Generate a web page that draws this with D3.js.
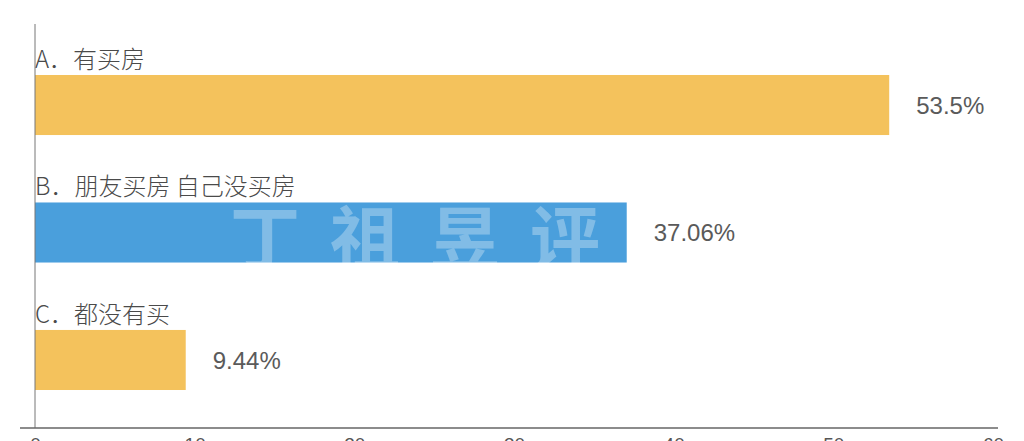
<!DOCTYPE html>
<html><head><meta charset="utf-8">
<script src="https://cdn.jsdelivr.net/npm/d3@7"></script>
<style>
html,body{margin:0;padding:0;background:#fff;}
svg{display:block;}
</style></head>
<body>
<svg id="chart" width="1024" height="441"></svg>
<script>
const categories = ["A．有买房", "B．朋友买房 自己没买房", "C．都没有买"];
const values = [53.5, 37.06, 9.44];
const valueLabels = ["53.5%", "37.06%", "9.44%"];
const barColors = ["#F4C25C", "#4A9FDC", "#F4C25C"];
const tickValues = [0, 10, 20, 30, 40, 50, 60];

const svg = d3.select("#chart");
const font = "'Noto Sans CJK SC', 'Liberation Sans', sans-serif";
const numFont = "'Liberation Sans', Arial, sans-serif";
const x = d3.scaleLinear().domain([0, 60]).range([35, 993]);
const y = d3.scaleBand().domain(categories).range([24, 441]).paddingInner(0.529).paddingOuter(0.4);
const axisY = 428;

// bars
svg.selectAll("rect.bar").data(values).enter().append("rect")
  .attr("class", "bar")
  .attr("x", x(0))
  .attr("y", (d, i) => y(categories[i]))
  .attr("width", d => x(d) - x(0))
  .attr("height", y.bandwidth())
  .attr("fill", (d, i) => barColors[i]);

// watermark (faint)
svg.append("text")
  .attr("x", (x(10) + x(52)) / 2)
  .attr("y", y(categories[1]) + y.bandwidth() / 2 + 32)
  .attr("text-anchor", "middle")
  .attr("font-family", font)
  .attr("font-weight", 700)
  .attr("font-size", 70)
  .attr("letter-spacing", 30)
  .attr("fill", "#ffffff")
  .attr("opacity", 0.3)
  .text("丁祖昱评楼市");

// category labels
svg.selectAll("text.cat").data(categories).enter().append("text")
  .attr("class", "cat")
  .attr("x", x(0))
  .attr("y", d => y(d) - 7)
  .attr("font-family", font)
  .attr("font-weight", 300)
  .attr("font-size", 24)
  .attr("fill", "#4a4a4a")
  .text(d => d);

// value labels
svg.selectAll("text.val").data(values).enter().append("text")
  .attr("class", "val")
  .attr("x", d => x(d) + 27)
  .attr("y", (d, i) => y(categories[i]) + y.bandwidth() / 2)
  .attr("dy", "0.36em")
  .attr("font-family", numFont)
  .attr("font-size", 24)
  .attr("fill", "#5a5a5a")
  .text((d, i) => valueLabels[i]);

// vertical axis line
svg.append("line")
  .attr("x1", x(0)).attr("x2", x(0))
  .attr("y1", 24).attr("y2", axisY)
  .attr("stroke", "#777").attr("stroke-width", 1);

// bottom axis
const gx = svg.append("g").attr("transform", `translate(0,${axisY})`)
  .call(d3.axisBottom(x).tickValues(tickValues).tickSize(0).tickPadding(10).tickFormat(d3.format("d")));
gx.select(".domain").remove();
gx.selectAll("text").attr("font-family", numFont).attr("font-size", 19).attr("fill", "#555");
svg.append("line")
  .attr("x1", x(0) - 15).attr("x2", x(60) + 5)
  .attr("y1", axisY).attr("y2", axisY)
  .attr("stroke", "#666").attr("stroke-width", 1.5);
</script>
</body></html>
